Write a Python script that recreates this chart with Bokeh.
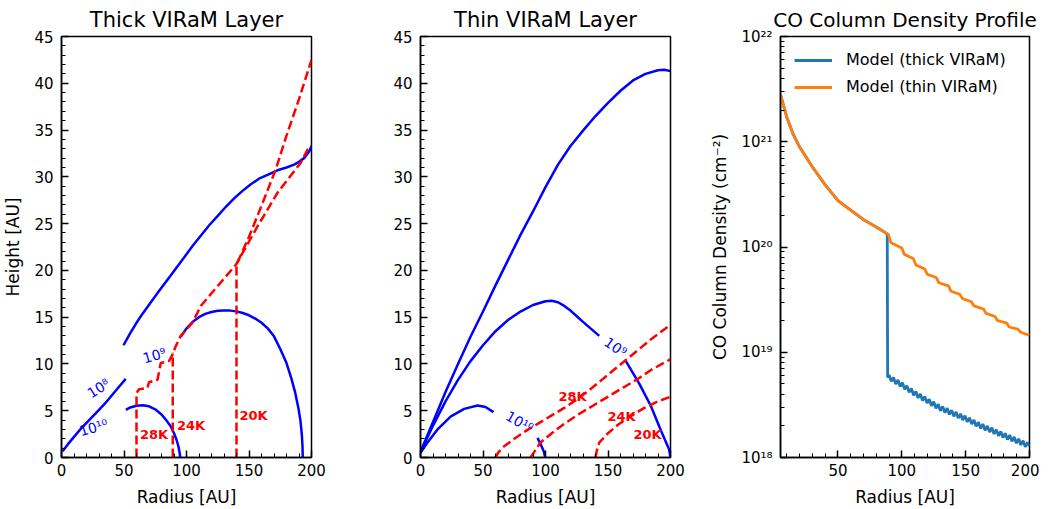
from bokeh.plotting import figure
from bokeh.layouts import row
from bokeh.models import FixedTicker, Range1d, Legend, LegendItem, CustomJSTickFormatter
from bokeh.core.properties import value
from bokeh.embed import file_html
from bokeh.resources import INLINE

FONT = "DejaVu Sans"

# ---------------- Thick VIRaM layer (radius [AU], height [AU]) ----------------
thick_c8_r = [0.8, 5, 10, 15, 20, 25, 30, 35, 40, 45, 51.4]
thick_c8_h = [0.67, 1.4, 2.2, 3.0, 3.7, 4.4, 5.1, 5.8, 6.6, 7.4, 8.4]

thick_c9_r = [49.6, 55, 60, 65, 71.5, 78, 84.8, 91.5, 98.2, 104.8, 111.4, 118, 124.8, 131.5, 138.1, 144.8,
              151.5, 158, 164.8, 172.8, 180, 186.1, 190, 194.1, 198.1, 200]
thick_c9_h = [12.0, 13.3, 14.4, 15.4, 16.6, 17.8, 19.0, 20.2, 21.4, 22.6, 23.7, 24.8, 25.8, 26.8, 27.7, 28.5,
              29.2, 29.8, 30.2, 30.7, 31.0, 31.3, 31.6, 32.0, 32.7, 33.3]

thick_c10a_r = [51.5, 55, 60, 65, 70, 75, 80, 84, 87.5, 90, 92, 93.5, 94.5, 95]
thick_c10a_h = [5.1, 5.35, 5.53, 5.58, 5.47, 5.15, 4.6, 3.95, 3.3, 2.6, 1.9, 1.2, 0.5, 0.0]

thick_c10b_r = [95.4, 100, 105, 110, 115, 120, 125, 130, 135, 140, 145, 150, 155, 160, 165, 170, 175, 180,
                184, 187, 189.5, 191.2, 192.3, 192.8, 193]
thick_c10b_h = [12.9, 13.8, 14.5, 15.0, 15.35, 15.55, 15.68, 15.72, 15.7, 15.62, 15.45, 15.2, 14.85, 14.4,
                13.8, 12.95, 11.6, 10.1, 8.4, 6.9, 5.3, 3.9, 2.4, 1.2, 0.0]

thick_T28_r = [60, 60, 62, 68.8, 70, 76.8, 79.4, 86, 88.8, 91.4, 95.4, 104.8, 111.4, 124.8, 139.5, 156.8,
               172.8, 191.4, 196.8, 200]
thick_T28_h = [0, 6.9, 7.3, 7.45, 8.05, 8.3, 10.1, 10.3, 11.0, 11.9, 13.0, 14.4, 16.2, 18.3, 20.6, 24.7,
               28.3, 31.5, 32.9, 33.3]

thick_T24_r = [89, 89]
thick_T24_h = [0, 11.2]

thick_T20_r = [140, 140, 150, 160, 171.4, 180, 190, 200]
thick_T20_h = [0, 20.6, 23.6, 26.9, 30.8, 34.4, 38.3, 42.5]

thick_lab_r = [29.6, 74.4, 25.6]
thick_lab_h = [7.4, 10.9, 3.2]
thick_lab_t = ["10⁸", "10⁹", "10¹⁰"]
thick_lab_a = [32, 16, 16]

thick_Tlab_r = [74, 103.6, 153.6]
thick_Tlab_h = [2.46, 3.4, 4.5]
thick_Tlab_t = ["28K", "24K", "20K"]

# ---------------- Thin VIRaM layer ----------------
thin_c8_r = [0, 10, 20, 30, 40, 50, 60, 70, 80, 90, 100, 110, 120, 131, 140, 150, 160, 170, 180, 190, 195, 200]
thin_c8_h = [0.6, 3.8, 7.0, 10.0, 12.9, 15.6, 18.4, 21.1, 23.8, 26.3, 28.9, 31.3, 33.3, 35.1, 36.5, 37.9,
             39.2, 40.3, 41.0, 41.4, 41.45, 41.3]

thin_c9a_r = [0, 5, 10, 20, 30, 40, 50, 60, 70, 80, 90, 100, 105, 110, 115, 120, 125, 130, 136, 143]
thin_c9a_h = [0.5, 2.0, 3.4, 6.0, 8.3, 10.3, 12.0, 13.5, 14.7, 15.6, 16.3, 16.7, 16.75, 16.6, 16.2, 15.7,
              15.1, 14.5, 13.8, 13.0]
thin_c9b_r = [164.3, 175, 184.3, 192, 198.9, 200]
thin_c9b_h = [10.3, 7.9, 5.5, 3.0, 0.86, 0.0]

thin_c10a_r = [0, 5, 13.6, 24.3, 35, 45.6, 52, 58.4]
thin_c10a_h = [0.5, 1.5, 3.0, 4.4, 5.2, 5.56, 5.4, 4.85]
thin_c10b_r = [93.6, 96.5, 98.8, 99.7]
thin_c10b_h = [2.1, 1.3, 0.6, 0.0]

thin_T28_r = [60, 62, 66, 75, 85, 95, 105, 115, 125, 135, 145, 155, 165, 175, 185, 200]
thin_T28_h = [0, 0.5, 1.1, 2.0, 2.9, 3.7, 4.5, 5.3, 6.2, 7.2, 8.3, 9.4, 10.5, 11.6, 12.7, 14.2]

thin_T24_r = [88, 91, 96, 105, 115, 125, 135, 145, 155, 165, 175, 185, 200]
thin_T24_h = [0, 0.6, 1.6, 2.6, 3.6, 4.5, 5.3, 6.1, 6.9, 7.7, 8.5, 9.4, 10.5]

thin_T20_r = [140, 141, 143, 150, 158, 168, 179, 190, 200]
thin_T20_h = [0, 0.7, 1.6, 2.6, 3.5, 4.4, 5.3, 6.0, 6.5]

thin_lab_r = [156, 79.2]
thin_lab_h = [11.8, 3.8]
thin_lab_t = ["10⁹", "10¹⁰"]
thin_lab_a = [-35, -30]

thin_Tlab_r = [121.6, 160.8, 181.6]
thin_Tlab_h = [6.5, 4.4, 2.46]
thin_Tlab_t = ["28K", "24K", "20K"]

# ---------------- CO column density profile (log10 N [cm^-2]) ----------------
thin_r = [5, 10, 15, 20, 30, 40, 50, 60, 70, 80, 88, 89.5, 91.5, 100, 102, 109, 111, 118, 120, 127, 129,
          136.5, 138.5, 145.5, 147.5, 154.5, 156.5, 164, 166, 173, 175, 182, 184, 191, 193, 200]
thin_logN = [21.45, 21.23, 21.07, 20.95, 20.76, 20.59, 20.44, 20.35, 20.26, 20.19, 20.13, 20.12, 20.04, 19.99,
             19.93, 19.89, 19.83, 19.79, 19.74, 19.71, 19.66, 19.63, 19.58, 19.55, 19.51, 19.48, 19.44,
             19.41, 19.37, 19.34, 19.30, 19.28, 19.24, 19.22, 19.19, 19.16]

thick_r = [5, 10, 15, 20, 30, 40, 50, 60, 70, 80, 88, 88.6, 88.9,
           90.0, 91.75, 93.5, 95.25, 97.0, 98.75, 100.5, 102.25, 104.0, 105.75, 107.5, 109.25, 111.0,
           112.75, 114.5, 116.25, 118.0, 119.75, 121.5, 123.25, 125.0, 126.75, 128.5, 130.25, 132.0,
           133.75, 135.5, 137.25, 139.0, 140.75, 142.5, 144.25, 146.0, 147.75, 149.5, 151.25, 153.0,
           154.75, 156.5, 158.25, 160.0, 161.75, 163.5, 165.25, 167.0, 168.75, 170.5, 172.25, 174.0,
           175.75, 177.5, 179.25, 181.0, 182.75, 184.5, 186.25, 188.0, 189.75, 191.5, 193.25, 195.0,
           196.75, 198.5, 200]
thick_logN = [21.45, 21.23, 21.07, 20.95, 20.76, 20.59, 20.44, 20.35, 20.26, 20.19, 20.13, 20.12, 18.76,
              18.785, 18.723, 18.760, 18.698, 18.736, 18.674, 18.711, 18.647, 18.683, 18.619, 18.655,
              18.591, 18.628, 18.566, 18.604, 18.541, 18.579, 18.517, 18.555, 18.492, 18.530, 18.468,
              18.506, 18.444, 18.485, 18.426, 18.468, 18.409, 18.450, 18.391, 18.433, 18.374, 18.415,
              18.356, 18.398, 18.338, 18.377, 18.317, 18.356, 18.296, 18.335, 18.276, 18.318, 18.259,
              18.300, 18.241, 18.283, 18.224, 18.265, 18.206, 18.248, 18.189, 18.230, 18.171, 18.213,
              18.154, 18.195, 18.136, 18.178, 18.119, 18.160, 18.101, 18.143, 18.11]

lin_major = [0, 5, 10, 15, 20, 25, 30, 35, 40, 45]
x_major = [0, 50, 100, 150, 200]
log_major = [1e18, 1e19, 1e20, 1e21, 1e22]


def style(p, xlabel, ylabel=None):
    p.outline_line_color = "black"
    p.outline_line_width = 1.5
    p.xgrid.visible = False
    p.ygrid.visible = False
    p.title.text_font = FONT
    p.title.text_font_size = "21px"
    p.title.text_font_style = "normal"
    p.title.align = "center"
    p.title.text_color = "black"
    for ax in (p.xaxis[0], p.yaxis[0]):
        ax.major_tick_in = 7
        ax.major_tick_out = 0
        ax.minor_tick_in = 4
        ax.minor_tick_out = 0
        ax.major_tick_line_width = 1.5
        ax.minor_tick_line_width = 1
        ax.axis_line_width = 1.5
        ax.major_label_text_font = FONT
        ax.major_label_text_font_size = "15px"
        ax.major_label_text_color = "black"
        ax.axis_label_text_font = FONT
        ax.axis_label_text_font_size = "17px"
        ax.axis_label_text_font_style = "normal"
        ax.axis_label_text_color = "black"
    p.xaxis[0].major_label_standoff = 6
    p.yaxis[0].major_label_standoff = 8
    p.xaxis[0].axis_label = xlabel
    p.xaxis[0].axis_label_standoff = 8
    if ylabel:
        p.yaxis[0].axis_label = ylabel
        p.yaxis[0].axis_label_standoff = 8


def contour_panel(title, left, right, ylabel):
    p = figure(title=title, frame_width=250, frame_height=421,
               min_border_left=left, min_border_right=right, min_border_top=29, min_border_bottom=50,
               x_range=Range1d(0, 200), y_range=Range1d(0, 45),
               output_backend="svg", toolbar_location=None)
    p.xaxis[0].ticker = FixedTicker(ticks=x_major, minor_ticks=list(range(0, 201, 10)))
    p.yaxis[0].ticker = FixedTicker(ticks=lin_major, minor_ticks=list(range(0, 46)))
    style(p, "Radius [AU]", ylabel)
    return p


BLUE = "#0000ff"
RED = "#ff0000"
DASH = "9 4"
DEG = 3.14159265 / 180

# ---- panel 1
p1 = contour_panel("Thick VIRaM Layer", 58, 60, "Height [AU]")
for xs, ys in [(thick_c8_r, thick_c8_h), (thick_c9_r, thick_c9_h),
               (thick_c10a_r, thick_c10a_h), (thick_c10b_r, thick_c10b_h)]:
    p1.line(xs, ys, line_color=BLUE, line_width=2.5)
for xs, ys in [(thick_T28_r, thick_T28_h), (thick_T24_r, thick_T24_h), (thick_T20_r, thick_T20_h)]:
    p1.line(xs, ys, line_color=RED, line_width=2.5, line_dash=DASH)
p1.text(x=thick_lab_r, y=thick_lab_h, text=thick_lab_t, angle=[a * DEG for a in thick_lab_a],
        text_color=BLUE, text_font=value(FONT), text_font_size="14px",
        text_align="center", text_baseline="middle")
p1.text(x=thick_Tlab_r, y=thick_Tlab_h, text=thick_Tlab_t, text_color=RED, text_font=value(FONT),
        text_font_size="13px", text_font_style="bold", text_align="center", text_baseline="middle")

# ---- panel 2
p2 = contour_panel("Thin VIRaM Layer", 49, 27, None)
for xs, ys in [(thin_c8_r, thin_c8_h), (thin_c9a_r, thin_c9a_h), (thin_c9b_r, thin_c9b_h),
               (thin_c10a_r, thin_c10a_h), (thin_c10b_r, thin_c10b_h)]:
    p2.line(xs, ys, line_color=BLUE, line_width=2.5)
for xs, ys in [(thin_T28_r, thin_T28_h), (thin_T24_r, thin_T24_h), (thin_T20_r, thin_T20_h)]:
    p2.line(xs, ys, line_color=RED, line_width=2.5, line_dash=DASH)
p2.text(x=thin_lab_r, y=thin_lab_h, text=thin_lab_t, angle=[a * DEG for a in thin_lab_a],
        text_color=BLUE, text_font=value(FONT), text_font_size="14px",
        text_align="center", text_baseline="middle")
p2.text(x=thin_Tlab_r, y=thin_Tlab_h, text=thin_Tlab_t, text_color=RED, text_font=value(FONT),
        text_font_size="13px", text_font_style="bold", text_align="center", text_baseline="middle")

# ---- panel 3
p3 = figure(title="CO Column Density Profile", frame_width=249, frame_height=421,
            min_border_left=83, min_border_right=10, min_border_top=29, min_border_bottom=50,
            x_range=Range1d(5, 200), y_range=Range1d(1e18, 1e22), y_axis_type="log",
            output_backend="svg", toolbar_location=None)
p3.xaxis[0].ticker = FixedTicker(ticks=[50, 100, 150, 200], minor_ticks=list(range(10, 201, 10)))
p3.yaxis[0].ticker = FixedTicker(ticks=log_major,
                                 minor_ticks=[k * 10.0 ** n for n in range(18, 22) for k in range(2, 10)])
p3.yaxis[0].formatter = CustomJSTickFormatter(code="""
const sup = {'0':'⁰','1':'¹','2':'²','3':'³','4':'⁴','5':'⁵','6':'⁶','7':'⁷','8':'⁸','9':'⁹'};
const e = String(Math.round(Math.log10(tick)));
return '10' + e.split('').map(c => sup[c]).join('');
""")
style(p3, "Radius [AU]", "CO Column Density (cm⁻²)")
p3.title.text_font_size = "20px"
r_thick = p3.line(thick_r, [10 ** v for v in thick_logN], line_color="#1f77b4", line_width=2.8)
r_thin = p3.line(thin_r, [10 ** v for v in thin_logN], line_color="#ff7f0e", line_width=2.8)
legend = Legend(items=[LegendItem(label="Model (thick VIRaM)", renderers=[r_thick]),
                       LegendItem(label="Model (thin VIRaM)", renderers=[r_thin])],
                location="top_left", margin=6, padding=8, spacing=8,
                glyph_width=38, glyph_height=18, label_height=18, label_standoff=14,
                label_text_font=FONT, label_text_font_size="16px", label_text_color="black",
                border_line_alpha=0, background_fill_alpha=0)
p3.add_layout(legend)

layout = row(p1, p2, p3, spacing=0)
open("out.html", "w").write(file_html(layout, INLINE))
